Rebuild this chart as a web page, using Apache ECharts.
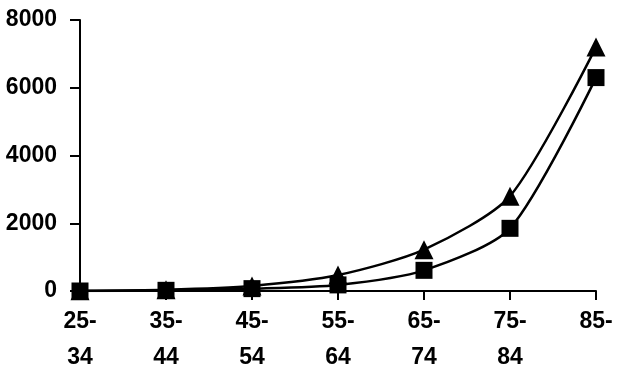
<!DOCTYPE html>
<html>
<head>
<meta charset="utf-8">
<script src="https://cdn.jsdelivr.net/npm/echarts@6/dist/echarts.min.js"></script>
<style>
  html, body { margin: 0; padding: 0; background: #fff; }
  #chart { width: 617px; height: 376px; }
</style>
</head>
<body>
<div id="chart"></div>
<script>
const categories = ['25-\n34', '35-\n44', '45-\n54', '55-\n64', '65-\n74', '75-\n84', '85-']
const triangleValues = [10, 40, 150, 470, 1220, 2800, 7200]
const squareValues = [0, 20, 70, 180, 610, 1850, 6300]
const yTicks = { min: 0, max: 8000, interval: 2000 }

const font = { color: '#000', fontFamily: 'Liberation Sans, Arial, sans-serif', fontWeight: 'bold', fontSize: 23 }

let chart = echarts.init(document.getElementById('chart'))
chart.setOption({
  animation: false,
  grid: { left: 80, right: 21, top: 20, bottom: 80 },
  xAxis: {
    type: 'category',
    boundaryGap: false,
    data: categories,
    axisLine: { lineStyle: { color: '#000', width: 2 } },
    axisTick: { alignWithLabel: true, length: 9, lineStyle: { color: '#000', width: 2 } },
    axisLabel: Object.assign({ margin: 13, lineHeight: 36, interval: 0 }, font),
    splitLine: { show: false }
  },
  yAxis: {
    type: 'value',
    min: yTicks.min,
    max: yTicks.max,
    interval: yTicks.interval,
    axisLine: { show: true, lineStyle: { color: '#000', width: 2 } },
    axisTick: { show: true, length: 10, lineStyle: { color: '#000', width: 2 } },
    axisLabel: Object.assign({ margin: 23, formatter: v => String(v) }, font),
    splitLine: { show: false }
  },
  series: [{
    name: 'triangle',
    type: 'line',
    smooth: 0.25,
    data: triangleValues,
    symbol: 'triangle',
    symbolSize: 19,
    itemStyle: { color: '#000' },
    lineStyle: { color: '#000', width: 2.5 }
  }, {
    name: 'square',
    type: 'line',
    smooth: 0.25,
    data: squareValues,
    symbol: 'rect',
    symbolSize: 17,
    itemStyle: { color: '#000' },
    lineStyle: { color: '#000', width: 2.5 }
  }]
})
</script>
</body>
</html>
